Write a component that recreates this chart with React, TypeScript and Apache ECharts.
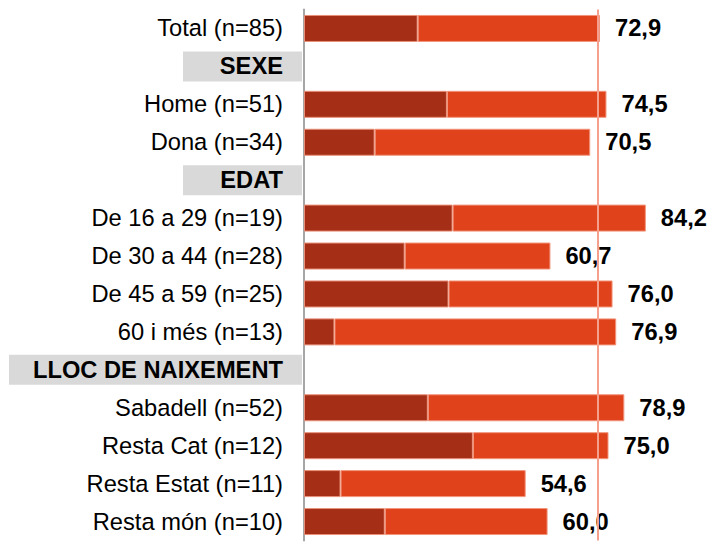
import React, { useEffect, useRef } from "react";
import * as echarts from "echarts";

const categories = [
  "Total (n=85)",
  "SEXE",
  "Home (n=51)",
  "Dona (n=34)",
  "EDAT",
  "De 16 a 29 (n=19)",
  "De 30 a 44 (n=28)",
  "De 45 a 59 (n=25)",
  "60 i més (n=13)",
  "LLOC DE NAIXEMENT",
  "Sabadell (n=52)",
  "Resta Cat (n=12)",
  "Resta Estat (n=11)",
  "Resta món (n=10)",
];
const headers = ["SEXE", "EDAT", "LLOC DE NAIXEMENT"];
const totals: (number | null)[] = [72.9, null, 74.5, 70.5, null, 84.2, 60.7, 76.0, 76.9, null, 78.9, 75.0, 54.6, 60.0];
const darkPart: (number | null)[] = [28.0, null, 35.2, 17.4, null, 36.6, 24.8, 35.6, 7.5, null, 30.5, 41.6, 9.0, 19.9];
const referenceValue = 72.4;

const FONT = "'Liberation Sans', Arial, sans-serif";
const FS = 23.7;

export default function App() {
  const ref = useRef<HTMLDivElement>(null);
  useEffect(() => {
    if (!ref.current) return;
    const chart = echarts.init(ref.current, null, { renderer: "svg" });
    const restPart = totals.map((t, i) => (t == null || darkPart[i] == null ? null : +(t - (darkPart[i] as number)).toFixed(1)));
    chart.setOption({
      animation: false,
      textStyle: { fontFamily: FONT },
      grid: { left: 304, right: 3, top: 9.5, bottom: 2.5, containLabel: false },
      xAxis: {
        type: "value",
        min: 0,
        max: 100,
        show: false,
      },
      yAxis: {
        type: "category",
        inverse: true,
        data: categories,
        axisTick: { show: false },
        axisLine: { show: true, lineStyle: { color: "#a6a6a6", width: 2 } },
        splitLine: { show: false },
        axisLabel: {
          margin: 2,
          fontFamily: FONT,
          fontSize: FS,
          color: "#000",
          formatter: (v: string) => {
            if (v === "LLOC DE NAIXEMENT") return `{hl|${v}}`;
            if (headers.includes(v)) return `{h|${v}}`;
            return `{n|${v}}`;
          },
          rich: {
            n: { fontFamily: FONT, fontSize: FS, color: "#000", padding: [0, 19, 0, 0] },
            h: {
              fontFamily: FONT,
              fontSize: FS,
              fontWeight: "bold",
              color: "#000",
              backgroundColor: "#d9d9d9",
              width: 100,
              height: 30,
              align: "right",
              padding: [0, 19, 0, 0],
            },
            hl: {
              fontFamily: FONT,
              fontSize: FS,
              fontWeight: "bold",
              color: "#000",
              backgroundColor: "#d9d9d9",
              width: 274,
              height: 30,
              align: "right",
              padding: [0, 19, 0, 0],
            },
          },
        },
      },
      series: [
        {
          type: "bar",
          stack: "s",
          data: darkPart,
          barWidth: 27,
          itemStyle: { color: "#a52f16", borderColor: "#e9907a", borderWidth: 1 },
          markLine: {
            silent: true,
            symbol: "none",
            label: { show: false },
            lineStyle: { color: "#f4a08c", width: 2, type: "solid" },
            data: [{ xAxis: referenceValue }],
          },
        },
        {
          type: "bar",
          stack: "s",
          data: restPart,
          barWidth: 27,
          itemStyle: { color: "#e0431b", borderColor: "#f2957c", borderWidth: 1 },
          label: {
            show: true,
            position: "right",
            distance: 15,
            fontFamily: FONT,
            fontSize: FS,
            fontWeight: "bold",
            color: "#000",
            formatter: (p: any) => {
              const t = totals[p.dataIndex];
              return t == null ? "" : t.toFixed(1).replace(".", ",");
            },
          },
        },
      ],
    });
    return () => chart.dispose();
  }, []);
  return <div ref={ref} style={{ position: "absolute", left: 0, top: 0, width: 713, height: 543 }} />;
}
